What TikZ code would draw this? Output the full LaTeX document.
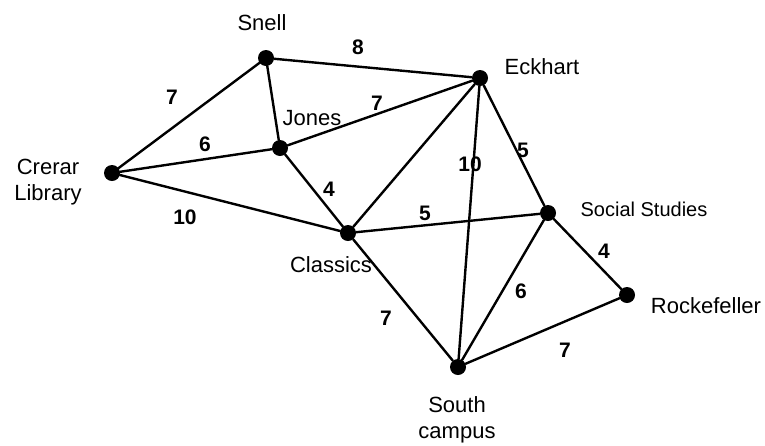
\documentclass[tikz,border=0pt]{standalone}
\usepackage{fontspec}
\setmainfont{Liberation Sans}
\begin{document}
\begin{tikzpicture}[x=1pt,y=-1pt,
  vtx/.style={circle,fill=black,inner sep=0pt,minimum size=16pt},
  edge/.style={line width=2.4pt,line cap=round},
  lbl/.style={font=\fontsize{22}{26}\selectfont,align=center,inner sep=0pt},
  wt/.style={font=\fontsize{21}{22}\selectfont\bfseries,inner sep=0pt}]
\useasboundingbox (0,0) rectangle (765,445);
\node[vtx] (snell) at (266,58) {};
\node[vtx] (eck) at (480,78) {};
\node[vtx] (jones) at (280,148) {};
\node[vtx] (crerar) at (112,173) {};
\node[vtx] (classics) at (348,233) {};
\node[vtx] (social) at (548,213) {};
\node[vtx] (rock) at (627,295) {};
\node[vtx] (south) at (458,367) {};

\draw[edge] (crerar) -- (snell);
\draw[edge] (snell) -- (eck);
\draw[edge] (snell) -- (jones);
\draw[edge] (crerar) -- (jones);
\draw[edge] (jones) -- (eck);
\draw[edge] (jones) -- (classics);
\draw[edge] (crerar) -- (classics);
\draw[edge] (classics) -- (eck);
\draw[edge] (eck) -- (south);
\draw[edge] (eck) -- (social);
\draw[edge] (classics) -- (social);
\draw[edge] (classics) -- (south);
\draw[edge] (social) -- (south);
\draw[edge] (social) -- (rock);
\draw[edge] (south) -- (rock);

\node[lbl] (lsnell) at (262,23) {Snell};
\node[lbl] (leck) at (542,67) {Eckhart};
\node[lbl] (ljones) at (312,118) {Jones};
\node[lbl] (lcrerar) at (48,182) {Crerar\\Library};
\node[lbl] (lclassics) at (331,265) {Classics};
\node[lbl,font=\fontsize{20}{24}\selectfont] (lsocial) at (644,209) {Social Studies};
\node[lbl] (lrock) at (706,306) {Rockefeller};
\node[lbl] (lsouth) at (457,420) {South\\campus};

\node[wt] (w1) at (172,97) {7};
\node[wt] (w2) at (358,47) {8};
\node[wt] (w3) at (205,144) {6};
\node[wt] (w4) at (377,103) {7};
\node[wt] (w5) at (329,189) {4};
\node[wt] (w6) at (185,217) {10};
\node[wt] (w7) at (470,164) {10};
\node[wt] (w8) at (523,150) {5};
\node[wt] (w9) at (425,213) {5};
\node[wt] (w10) at (604,251) {4};
\node[wt] (w11) at (521,291) {6};
\node[wt] (w12) at (386,318) {7};
\node[wt] (w13) at (565,350) {7};
\end{tikzpicture}
\end{document}
